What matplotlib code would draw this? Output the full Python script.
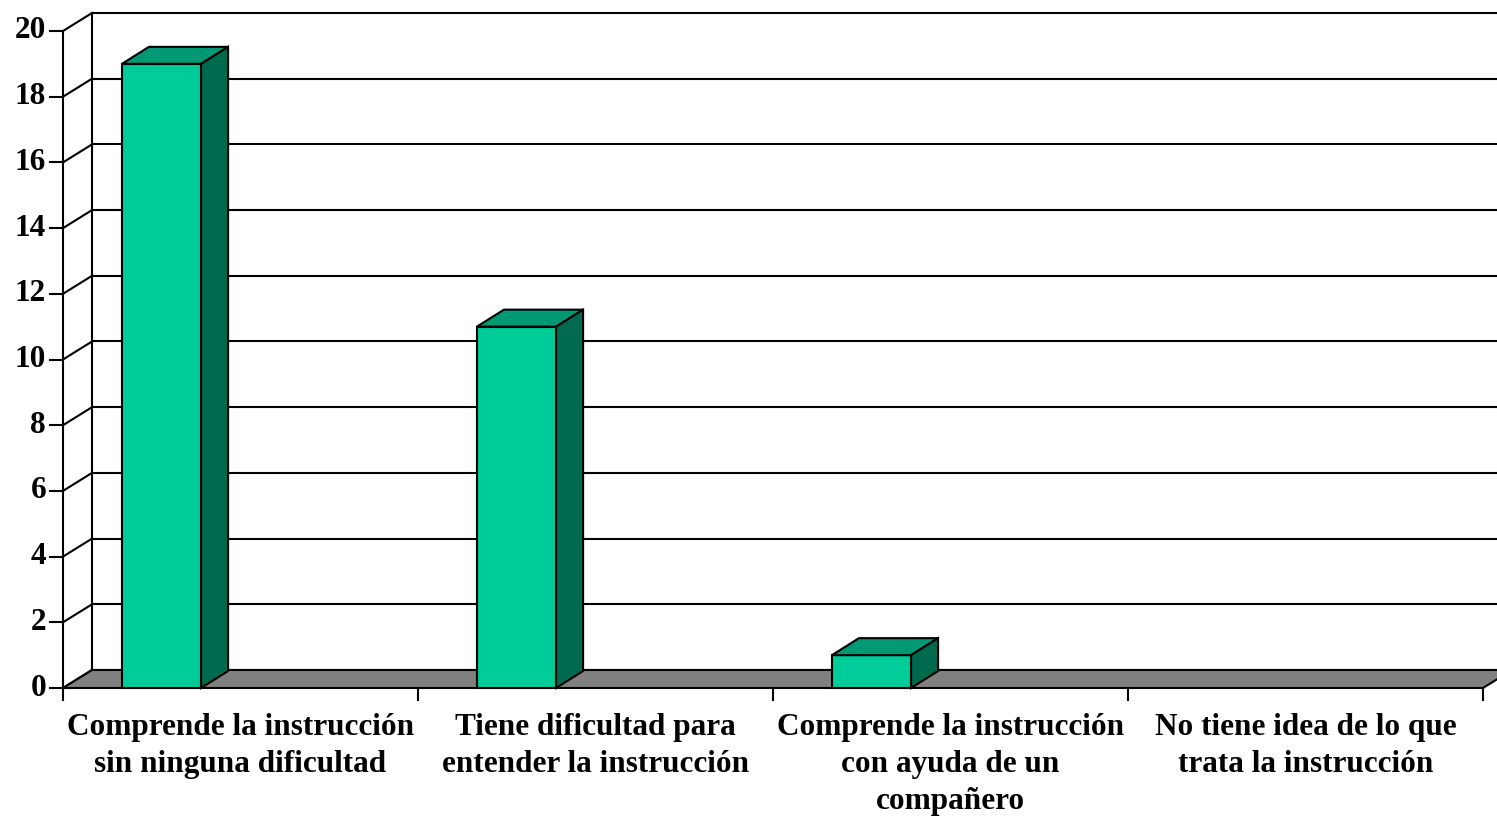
"""
plot.py

3D-style column chart (Excel look) drawn with plain matplotlib patches.
"""

import matplotlib.pyplot as plt
from matplotlib.patches import Polygon

categories = [
    "Comprende la instrucción\nsin ninguna dificultad",
    "Tiene dificultad para\nentender la instrucción",
    "Comprende la instrucción\ncon ayuda de un\ncompañero",
    "No tiene idea de lo que\ntrata la instrucción",
]
values = [19, 11, 1, 0]
yticks = [0, 2, 4, 6, 8, 10, 12, 14, 16, 18, 20]

# colours
face_col = "#00CC99"
top_col = "#009973"
side_col = "#006A4E"
floor_col = "#808080"

# depth offsets (data units)
DX, DY = 29 / 355, 18 / 32.85
BDX, BDY = 27 / 355, 17 / 32.85
bar_off, bar_w = 0.166, 0.223
n = len(categories)
ymax = yticks[-1]

plt.rcParams["font.family"] = ["Liberation Serif", "DejaVu Serif"]

fig = plt.figure(figsize=(14.97, 8.17), dpi=100)
ax = fig.add_axes([0, 0, 1, 1])
ax.set_xlim(-63 / 355, (1497 - 63) / 355)
ax.set_ylim(-(817 - 688) / 32.85, 688 / 32.85)
ax.axis("off")

lw = 1.5
xend = n + DX + 0.2

# back wall gridlines and side wall diagonals
for v in yticks:
    ax.plot([DX, xend], [v + DY, v + DY], color="black", lw=lw)
    ax.plot([0, DX], [v, v + DY], color="black", lw=lw)
    ax.plot([-13 / 355, 0], [v, v], color="black", lw=lw)
    ax.text(-17 / 355, v, str(v), ha="right", va="center",
            fontsize=22.5, fontweight="bold")
ax.plot([DX, DX], [DY, ymax + DY], color="black", lw=lw)
ax.plot([0, 0], [0, ymax], color="black", lw=lw)

# floor
ax.add_patch(Polygon([(0, 0), (n, 0), (n + DX, DY), (DX, DY)], closed=True,
                     facecolor=floor_col, edgecolor="black", lw=lw, zorder=2))

# category ticks and labels
for i in range(n + 1):
    ax.plot([i, i], [0, -12 / 32.85], color="black", lw=lw)
for i, lab in enumerate(categories):
    ax.text(i + 0.5, -0.77, lab, ha="center", va="top", fontsize=22.5,
            fontweight="bold", linespacing=1.36)

# bars
for i, v in enumerate(values):
    if v <= 0:
        continue
    x0 = i + bar_off
    x1 = x0 + bar_w
    ax.add_patch(Polygon([(x0, 0), (x1, 0), (x1, v), (x0, v)], closed=True,
                         facecolor=face_col, edgecolor="black", lw=lw, zorder=3))
    ax.add_patch(Polygon([(x0, v), (x1, v), (x1 + BDX, v + BDY), (x0 + BDX, v + BDY)],
                         closed=True, facecolor=top_col, edgecolor="black",
                         lw=lw, zorder=3))
    ax.add_patch(Polygon([(x1, 0), (x1 + BDX, BDY), (x1 + BDX, v + BDY), (x1, v)],
                         closed=True, facecolor=side_col, edgecolor="black",
                         lw=lw, zorder=3))

fig.savefig("out.png", dpi=100)
